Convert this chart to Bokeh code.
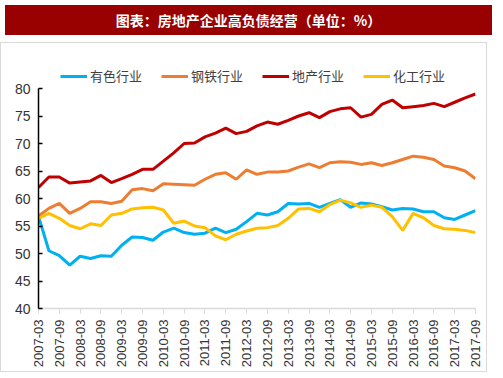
from bokeh.plotting import figure
from bokeh.models import Div, Legend, LegendItem, FixedTicker, Range1d
from bokeh.layouts import column
from bokeh.embed import file_html
from bokeh.resources import INLINE
import math

title_text = "图表：房地产企业高负债经营（单位：%）"

quarters = []
for y in range(2007, 2018):
    for m in ["03", "06", "09", "12"]:
        quarters.append(f"{y}-{m}")
quarters = quarters[:43]  # 2007-03 .. 2017-09

series_names = ["有色行业", "钢铁行业", "地产行业", "化工行业"]

nonferrous = [56.8, 50.5, 49.6, 47.9, 49.5, 49.1, 49.6, 49.5, 51.5, 53.0, 52.9, 52.4, 53.9, 54.6,
              53.8, 53.5, 53.7, 54.6, 53.8, 54.4, 55.8, 57.3, 57.0, 57.6, 59.1, 59.0, 59.1, 58.4,
              59.1, 59.8, 58.4, 59.2, 59.0, 58.5, 57.9, 58.2, 58.1, 57.6, 57.6, 56.5, 56.2, 57.0, 57.8]
steel = [56.8, 58.2, 59.1, 57.3, 58.2, 59.4, 59.4, 59.1, 59.5, 61.6, 61.8, 61.4, 62.7, 62.6,
         62.5, 62.4, 63.5, 64.4, 64.7, 63.5, 65.2, 64.4, 64.8, 64.8, 65.0, 65.7, 66.3, 65.6,
         66.5, 66.7, 66.6, 66.2, 66.5, 66.0, 66.5, 67.1, 67.7, 67.5, 67.1, 65.9, 65.6, 65.0, 63.6]
realestate = [62.0, 63.9, 63.9, 62.8, 63.0, 63.2, 64.2, 62.9, 63.6, 64.4, 65.3, 65.3, 66.8, 68.3,
              70.0, 70.1, 71.2, 71.9, 72.8, 71.8, 72.2, 73.2, 73.9, 73.5, 74.2, 75.0, 75.6, 74.7,
              75.8, 76.3, 76.5, 74.8, 75.3, 77.1, 77.9, 76.5, 76.7, 76.9, 77.3, 76.7, 77.5, 78.3, 79.0]
chemical = [56.4, 57.3, 56.4, 55.1, 54.5, 55.4, 55.1, 57.0, 57.3, 58.1, 58.3, 58.4, 57.9, 55.5,
            55.9, 55.0, 54.7, 53.2, 52.5, 53.5, 54.1, 54.6, 54.7, 55.1, 56.4, 58.1, 58.2, 57.6,
            58.9, 59.7, 59.2, 58.4, 58.8, 58.4, 56.7, 54.2, 57.3, 56.5, 55.1, 54.5, 54.4, 54.2, 53.8]

y_ticks = [40, 45, 50, 55, 60, 65, 70, 75, 80]

colors = ["#00B0F0", "#ED7D31", "#C00000", "#FFC000"]
all_series = [nonferrous, steel, realestate, chemical]

xs = list(range(len(quarters)))

W = 487
title_div = Div(
    text=title_text,
    width=W, height=30,
    styles={"background-color": "#990000", "color": "white", "font-weight": "bold",
            "font-size": "14px", "font-family": "'Noto Sans CJK SC'", "text-align": "center",
            "line-height": "30px", "width": f"{W}px", "height": "30px"},
)

# frame spans 243 px; 220 px for 40..80, 23 px headroom for the legend
p = figure(width=W, height=330, output_backend="svg", toolbar_location=None,
           x_range=Range1d(0, 42), y_range=Range1d(40, 80 + 40 * 23 / 220),
           min_border_left=37, min_border_right=13, min_border_top=22, min_border_bottom=65)
p.outline_line_color = None
p.grid.grid_line_color = None
p.background_fill_color = "white"
p.border_fill_color = "white"

renderers = []
for ys, c in zip(all_series, colors):
    r = p.line(xs, ys, line_color=c, line_width=3)
    renderers.append(r)

legend = Legend(items=[LegendItem(label=n, renderers=[r]) for n, r in zip(series_names, renderers)],
                orientation="horizontal", location=(22, 223))
legend.label_text_font = "Noto Sans CJK SC"
legend.label_text_font_size = "13px"
legend.label_text_color = "#404040"
legend.glyph_width = 27
legend.glyph_height = 16
legend.label_height = 16
legend.label_standoff = 3
legend.spacing = 19
legend.padding = 0
legend.margin = 0
legend.border_line_color = None
legend.background_fill_alpha = 0
p.add_layout(legend)

# y axis
p.yaxis.ticker = FixedTicker(ticks=y_ticks)
p.yaxis.bounds = (40, 80)
p.yaxis.axis_line_color = "black"
p.yaxis.axis_line_width = 1.5
p.yaxis.major_tick_line_color = "black"
p.yaxis.major_tick_line_width = 1.5
p.yaxis.major_tick_in = 4
p.yaxis.major_tick_out = 0
p.yaxis.minor_tick_line_color = None
p.yaxis.major_label_text_font = "Liberation Sans"
p.yaxis.major_label_text_font_size = "14px"
p.yaxis.major_label_text_color = "#333333"
p.yaxis.major_label_standoff = 8

# x axis
p.xaxis.ticker = FixedTicker(ticks=xs[::2])
p.xaxis.major_label_overrides = {i: quarters[i] for i in xs[::2]}
p.xaxis.major_label_orientation = math.pi / 2
p.xaxis.axis_line_color = "#D9D9D9"
p.xaxis.axis_line_width = 1.5
p.xaxis.major_tick_line_color = "#D9D9D9"
p.xaxis.major_tick_in = 0
p.xaxis.major_tick_out = 5
p.xaxis.minor_tick_line_color = None
p.xaxis.major_label_text_font = "Liberation Sans"
p.xaxis.major_label_text_font_size = "13px"
p.xaxis.major_label_text_color = "#333333"
p.xaxis.major_label_standoff = 6

p.styles = {"border": "1px solid #D9D9D9", "box-sizing": "border-box"}

layout = column(title_div, p, spacing=2)
open("out.html", "w").write(file_html(layout, INLINE))
